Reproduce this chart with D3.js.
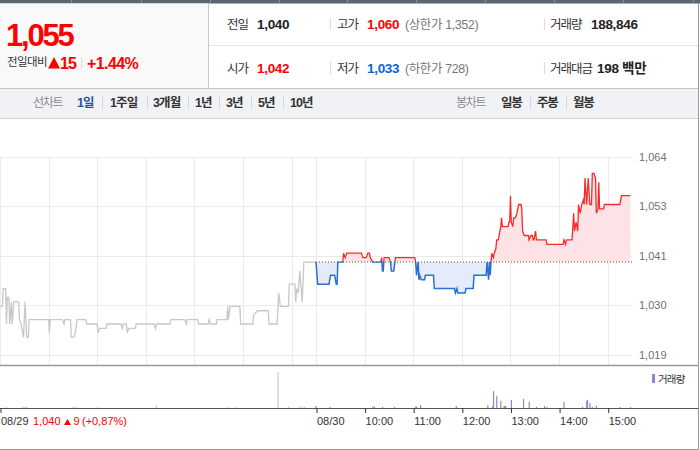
<!DOCTYPE html>
<html><head><meta charset="utf-8">
<script src="https://cdn.jsdelivr.net/npm/d3@7"></script>
<style>
body{margin:0;background:#fff;}
svg{display:block;font-family:"Liberation Sans","Noto Sans CJK KR",sans-serif;}
</style></head><body><svg id="c" width="700" height="450"></svg>
<script>
// ---------- data ----------
const prevClose = 1040;
const yTickValues = [1019.0, 1030.2, 1041.4, 1052.6, 1063.8];
const dayLabels = ["08/29", "08/30"];
const hourLabels = ["10:00", "11:00", "12:00", "13:00", "14:00", "15:00"];

// minutes after 09:00 open
const day1Minutes = [0,3,4,7,8,9,11,12,14,15,17,23,24,26,27,29,31,33,35,36,60,61,62,77,79,80,87,88,91,93,95,106,107,120,121,123,131,132,149,151,152,156,157,159,167,168,190,192,193,210,211,228,230,231,244,245,257,258,260,267,268,280,281,282,284,296,297,312,313,318,331,332,342,344,346,356,357,364,365,366,368,370,373,375,390];
const day1Prices = [1030,1030,1034,1034,1026,1032,1032,1026,1031,1026,1031,1031,1027,1026,1025,1023,1031,1023,1023,1027,1027,1024,1027,1027,1026,1027,1027,1023,1023,1024,1027,1027,1026,1026,1024,1025,1025,1026,1026,1025,1026,1026,1024,1025,1025,1026,1026,1025,1026,1026,1027,1027,1026,1027,1027,1026,1026,1027,1026,1026,1027,1027,1030,1027,1030,1030,1026,1026,1028,1029,1029,1026,1026,1033,1030,1030,1035,1035,1031,1034,1033,1038,1031,1040,1040];

const day2Minutes = [0,2,16,17,18,23,25,26,27,33,34,36,38,56,58,62,64,66,67,70,80,81,82,83,84,90,92,93,96,98,122,123,124,126,127,128,130,134,135,145,146,171,172,174,175,184,185,194,195,210,211,213,214,215,216,217,219,220,222,223,225,226,228,229,230,237,238,239,240,241,243,244,246,248,250,253,254,255,257,262,263,265,267,268,269,271,272,284,285,305,306,308,309,316,318,319,321,323,324,326,328,330,331,332,334,336,338,340,341,343,345,346,348,349,350,355,356,375,377,388];
const day2Prices = [1040,1035,1035,1036,1037,1037,1035,1035,1040,1040,1042,1041,1042,1042,1041,1041,1042,1042,1041,1040,1040,1041,1038,1038,1041,1041,1040,1038,1038,1041,1041,1040,1037,1040,1036,1037,1036,1036,1037,1037,1034,1034,1033,1034,1033,1033,1034,1034,1037,1037,1040,1036,1040,1037,1040,1042,1041,1042,1043,1045,1045,1046,1048,1050,1048,1048,1049,1049,1055,1049,1048,1050,1050,1051,1053,1053,1052,1047,1046,1046,1045,1046,1046,1045,1045,1047,1045,1045,1044,1044,1045,1044,1045,1045,1051,1047,1049,1047,1053,1051,1053,1054,1053,1059,1053,1059,1053,1053,1060,1060,1059,1051,1052,1058,1052,1052,1053,1053,1055,1055];

const day1VolMinutes = [8,28,31,33,90,93,121,193,281,292,343,356,370,373,376];
const day1Volumes = [1700,2500,1700,2500,2000,2500,1500,5000,1500,1500,62000,2500,2500,2500,2500];
const day2VolMinutes = [0,17,70,72,82,97,123,124,129,173,212,218,219,223,228,232,233,234,241,256,263,272,282,285,306,329,334,335,338,341,346,375,388];
const day2Volumes = [3500,1700,2500,2500,1700,1700,2500,2500,5000,3500,5000,3500,29000,21000,12000,3500,3500,3500,14000,15500,10500,2000,3500,1700,10500,1700,12000,14000,8500,1700,4000,1700,1500];

// header texts
const headerRow1 = [["전일","1,040","#222"],["고가","1,060","#f00"],["거래량","188,846","#222"]];
const headerRow2 = [["시가","1,042","#f00"],["저가","1,033","#0a63e0"],["거래대금","198 백만","#222"]];
const limitTexts = ["(상한가 1,352)", "(하한가 728)"];
const lineChartTabs = ["1일","1주일","3개월","1년","3년","5년","10년"];
const candleTabs = ["일봉","주봉","월봉"];

// ---------- drawing ----------
const svg = d3.select("#c");
const RED = "#f82b2b", BLUE = "#2a6fd6";

// header background
svg.append("rect").attr("x",0).attr("y",0).attr("width",700).attr("height",3.5).attr("fill","#5d6570");
[71,141,210,279,347,416,485,554,623,693].forEach(px => svg.append("rect").attr("x",px).attr("y",0).attr("width",1).attr("height",3.5).attr("fill","#868d96"));
svg.append("rect").attr("x",0).attr("y",3.5).attr("width",208).attr("height",84.5).attr("fill","#f9f9f9");
svg.append("line").attr("x1",208.5).attr("x2",208.5).attr("y1",3.5).attr("y2",88).attr("stroke","#c9c9c9");
svg.append("line").attr("x1",209).attr("x2",698).attr("y1",45.5).attr("y2",45.5).attr("stroke","#e6e6e6");
svg.append("line").attr("x1",0).attr("x2",698).attr("y1",88.5).attr("y2",88.5).attr("stroke","#c4c4c4");
// right border
svg.append("line").attr("x1",698.5).attr("x2",698.5).attr("y1",3).attr("y2",450).attr("stroke","#9a9a9a");

// big price
svg.append("text").attr("x",6).attr("y",46).text("1,055")
  .attr("font-size",31).attr("font-weight","bold").attr("fill","#f00").attr("letter-spacing","-2.2");
svg.append("text").attr("x",7).attr("y",66).text("전일대비")
  .attr("font-family","Noto Sans CJK KR").attr("font-size",11.5).attr("letter-spacing","-0.6").attr("fill","#333");
svg.append("path").attr("d","M48,68.5 L54,57 L60,68.5 Z").attr("fill","#f00");
svg.append("text").attr("x",60).attr("y",68.5).text("15")
  .attr("font-size",16).attr("font-weight","bold").attr("fill","#f00").attr("letter-spacing","-0.8");
svg.append("line").attr("x1",81.5).attr("x2",81.5).attr("y1",57).attr("y2",69).attr("stroke","#ddd");
svg.append("text").attr("x",87).attr("y",68.5).text("+1.44%")
  .attr("font-size",16).attr("font-weight","bold").attr("fill","#f00").attr("letter-spacing","-0.6");

const colX = [227, 337, 550], valX = [257, 367, 591];
[[headerRow1, 29], [headerRow2, 73]].forEach(([row, by], ri) => {
  row.forEach((cell, i) => {
    svg.append("text").attr("x",colX[i]).attr("y",by).text(cell[0])
      .attr("font-family","Noto Sans CJK KR").attr("font-size",12.5).attr("letter-spacing","-1").attr("fill","#333");
    svg.append("text").attr("x", i===2 && ri===1 ? 597 : valX[i]).attr("y",by).text(cell[1])
      .attr("font-size",13.5).attr("font-weight","bold").attr("fill",cell[2]).attr("letter-spacing","-0.3");
  });
  svg.append("text").attr("x",405).attr("y",by).text(limitTexts[ri])
    .attr("font-size",12.5).attr("fill","#777").attr("letter-spacing","-0.4");
  [330.5, 544.5].forEach(sx => svg.append("line").attr("x1",sx).attr("x2",sx).attr("y1",by-11).attr("y2",by+1).attr("stroke","#dcdcdc"));
});

// nav bar
svg.append("rect").attr("x",0).attr("y",89).attr("width",698).attr("height",29).attr("fill","#f1f2f6");
svg.append("line").attr("x1",0).attr("x2",698).attr("y1",118.5).attr("y2",118.5).attr("stroke","#d2d2d6");
svg.append("text").attr("x",33).attr("y",107).text("선차트").attr("font-family","Noto Sans CJK KR")
  .attr("font-size",12).attr("letter-spacing","-1.3").attr("fill","#8a8a8a");
const tabX = [77,110,153,195,226,258,290], tabSep = [102,147,188,219,251,283];
lineChartTabs.forEach((t,i) => svg.append("text").attr("x",tabX[i]).attr("y",107).text(t)
  .attr("font-size",12.5).attr("font-weight","bold").attr("letter-spacing","-0.9")
  .attr("fill", i===0 ? "#2d4fa5" : "#333"));
tabSep.forEach(sx => svg.append("line").attr("x1",sx+0.5).attr("x2",sx+0.5).attr("y1",97).attr("y2",109).attr("stroke","#d4d4d8"));
svg.append("text").attr("x",456).attr("y",107).text("봉차트").attr("font-family","Noto Sans CJK KR")
  .attr("font-size",12).attr("letter-spacing","-1.3").attr("fill","#8a8a8a");
const cTabX = [501,537,573];
candleTabs.forEach((t,i) => svg.append("text").attr("x",cTabX[i]).attr("y",107).text(t)
  .attr("font-family","Noto Sans CJK KR").attr("font-size",12.5).attr("font-weight","bold").attr("letter-spacing","-1.2").attr("fill","#333"));
[530,566].forEach(sx => svg.append("line").attr("x1",sx+0.5).attr("x2",sx+0.5).attr("y1",97).attr("y2",109).attr("stroke","#d4d4d8"));

// scales
const x = d3.scaleLinear().domain([0, 780]).range([0, 632]);
const y = d3.scaleLinear().domain([1019.0, 1063.8]).range([355, 156.7]);
const vol = d3.scaleLinear().domain([0, 62000]).range([408, 372]);
const plotTop = 156.7, plotBottom = 365;

// grid
const g = svg.append("g");
g.selectAll(".hg").data(yTickValues).enter().append("line")
  .attr("x1",0).attr("x2",632).attr("y1",d=>Math.round(y(d))+0.5).attr("y2",d=>Math.round(y(d))+0.5)
  .attr("stroke","#ebebeb");
const gridMinutes = [0,60,120,180,240,300,360,390,450,510,570,630,690,750];
g.selectAll(".vg").data(gridMinutes).enter().append("line")
  .attr("x1",d=>Math.round(x(d))+0.5).attr("x2",d=>Math.round(x(d))+0.5)
  .attr("y1",plotTop).attr("y2",plotBottom).attr("stroke","#ebebeb");

// y axis labels
const yAxis = d3.axisRight(y).tickValues(yTickValues).tickSize(0).tickPadding(0).tickFormat(d3.format(",.0f"));
const ya = svg.append("g").attr("transform","translate(639,0)").call(yAxis);
ya.select(".domain").remove();
ya.selectAll("text").attr("font-size",11).attr("fill","#707070").attr("font-family","Liberation Sans");

// day 1 (grey)
const d1 = day1Minutes.map((m,i)=>({t:m, p:day1Prices[i]}));
const d2 = day2Minutes.map((m,i)=>({t:390+m, p:day2Prices[i]}));
const line = d3.line().x(d=>x(d.t)).y(d=>y(d.p));
svg.append("path").datum(d1).attr("d",line).attr("fill","none").attr("stroke","#c8c8cc").attr("stroke-width",1.3);

// day 2 coloured
const base = y(prevClose);
const defs = svg.append("defs");
defs.append("clipPath").attr("id","up").append("rect").attr("x",0).attr("y",0).attr("width",700).attr("height",base);
defs.append("clipPath").attr("id","dn").append("rect").attr("x",0).attr("y",base).attr("width",700).attr("height",200);
const area = d3.area().x(d=>x(d.t)).y0(base).y1(d=>y(d.p));
svg.append("path").datum(d2).attr("d",area).attr("fill","#fde3e5").attr("clip-path","url(#up)");
svg.append("path").datum(d2).attr("d",area).attr("fill","#e3ecf8").attr("clip-path","url(#dn)");
svg.append("path").datum(d2).attr("d",line).attr("fill","none").attr("stroke",RED).attr("stroke-width",1.3).attr("clip-path","url(#up)");
svg.append("path").datum(d2).attr("d",line).attr("fill","none").attr("stroke",BLUE).attr("stroke-width",1.5).attr("clip-path","url(#dn)");
// previous close dotted line
svg.append("line").attr("x1",x(390)).attr("x2",x(780)).attr("y1",base).attr("y2",base)
  .attr("stroke","#555").attr("stroke-width",1).attr("stroke-dasharray","1,2");

// price panel bottom border
svg.append("line").attr("x1",0).attr("x2",698).attr("y1",365.5).attr("y2",365.5).attr("stroke","#999").attr("stroke-width",1.5);

// volume
const v1 = day1VolMinutes.map((m,i)=>({t:m, v:day1Volumes[i]}));
const v2 = day2VolMinutes.map((m,i)=>({t:390+m, v:day2Volumes[i]}));
svg.selectAll(".v1").data(v1).enter().append("rect")
  .attr("x",d=>x(d.t)-0.5).attr("width",1.2).attr("y",d=>vol(d.v)).attr("height",d=>408-vol(d.v)).attr("fill","#c9c9d6");
svg.selectAll(".v2").data(v2).enter().append("rect")
  .attr("x",d=>x(d.t)-0.5).attr("width",1.2).attr("y",d=>vol(d.v)).attr("height",d=>408-vol(d.v)).attr("fill","#9784c8");
svg.append("rect").attr("x",652).attr("y",374).attr("width",3).attr("height",9).attr("fill","#9784c8");
svg.append("text").attr("x",658).attr("y",383).text("거래량").attr("font-family","Noto Sans CJK KR")
  .attr("font-size",10.5).attr("letter-spacing","-0.8").attr("fill","#333");

// x axis
const tickMinutes = [0,390,450,510,570,630,690,750];
const tickText = [dayLabels[0], dayLabels[1]].concat(hourLabels);
const xAxis = d3.axisBottom(x).tickValues(tickMinutes).tickSize(5).tickPadding(4)
  .tickFormat((d,i)=>tickText[i]);
const xa = svg.append("g").attr("transform","translate(0.5,408)").call(xAxis);
xa.select(".domain").attr("d","M-0.5,0.5H698").attr("stroke","#555");
xa.selectAll(".tick line").attr("stroke","#333");
xa.selectAll("text").attr("text-anchor","start").attr("font-size",11).attr("fill","#333").attr("font-family","Liberation Sans");
// previous day summary
svg.append("text").attr("x",33).attr("y",425).text("1,040").attr("font-size",11).attr("fill","#f00");
svg.append("path").attr("d","M64,425 L67.5,419 L71,425 Z").attr("fill","#f00");
svg.append("text").attr("x",73.5).attr("y",425).text("9").attr("font-size",11).attr("fill","#f00");
svg.append("text").attr("x",82).attr("y",425).text("(+0,87%)").attr("font-size",11).attr("fill","#f00");

// bottom border
svg.append("line").attr("x1",0).attr("x2",698).attr("y1",449.5).attr("y2",449.5).attr("stroke","#9a9a9a");
</script></body></html>
